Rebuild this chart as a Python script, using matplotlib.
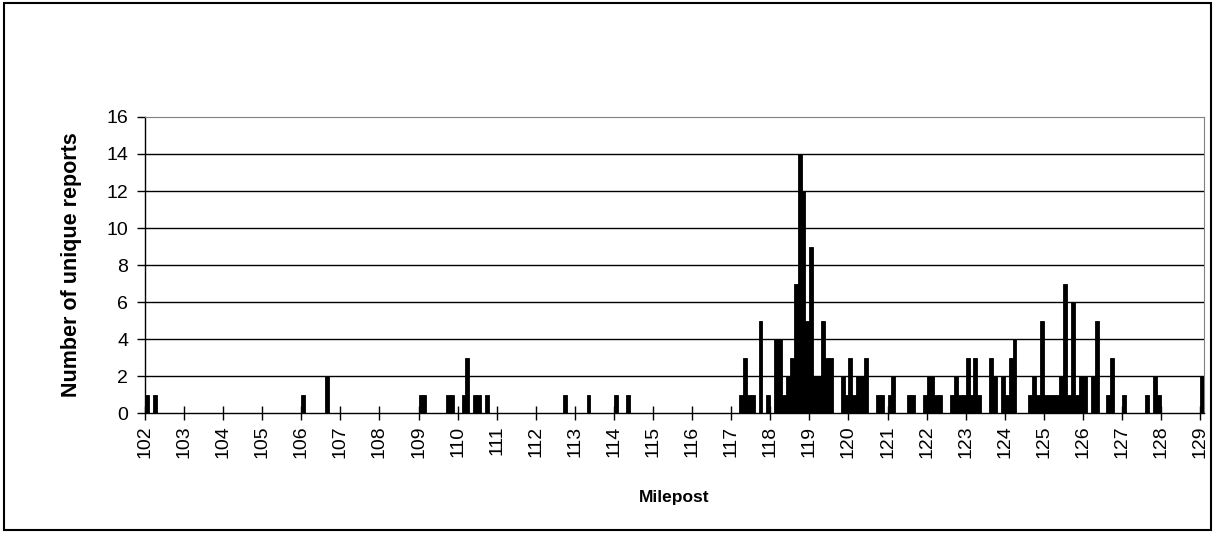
import matplotlib
matplotlib.use("Agg")
import matplotlib.pyplot as plt
from matplotlib.patches import Rectangle

plt.rcParams['font.family'] = ['Liberation Sans', 'DejaVu Sans']

# milepost (start of each 0.1 mile bin) and number of unique reports; empty bins left out
mileposts = [102.0, 102.2, 106.0, 106.6, 109.0, 109.1, 109.7, 109.8, 110.1, 110.2,
             110.4, 110.5, 110.7, 112.7, 113.3, 114.0, 114.3,
             117.2, 117.3, 117.4, 117.5, 117.7, 117.9, 118.1, 118.2, 118.3, 118.4,
             118.5, 118.6, 118.7, 118.8, 118.9, 119.0, 119.1, 119.2, 119.3, 119.4,
             119.5, 119.8, 119.9, 120.0, 120.1, 120.2, 120.3, 120.4, 120.7, 120.8,
             121.0, 121.1, 121.5, 121.6, 121.9, 122.0, 122.1, 122.2, 122.3, 122.6,
             122.7, 122.8, 122.9, 123.0, 123.1, 123.2, 123.3, 123.6, 123.7, 123.9,
             124.0, 124.1, 124.2, 124.6, 124.7, 124.8, 124.9, 125.0, 125.1, 125.2,
             125.3, 125.4, 125.5, 125.6, 125.7, 125.8, 125.9, 126.0, 126.2, 126.3,
             126.6, 126.7, 127.0, 127.6, 127.8, 127.9, 129.0]
reports = [1, 1, 1, 2, 1, 1, 1, 1, 1, 3,
           1, 1, 1, 1, 1, 1, 1,
           1, 3, 1, 1, 5, 1, 4, 4, 1, 2,
           3, 7, 14, 12, 5, 9, 2, 2, 5, 3,
           3, 2, 1, 3, 1, 2, 2, 3, 1, 1,
           1, 2, 1, 1, 1, 2, 2, 1, 1, 1,
           2, 1, 1, 3, 1, 3, 1, 3, 2, 2,
           1, 3, 4, 1, 2, 1, 5, 1, 1, 1,
           1, 2, 7, 1, 6, 1, 2, 2, 2, 5,
           1, 3, 1, 1, 2, 1, 2]

xticks = list(range(102, 130))
yticks = list(range(0, 17, 2))

fig = plt.figure(figsize=(12.15, 5.33), dpi=100)
ax = fig.add_axes([0.1193, 0.2251, 0.8717, 0.5554])

ax.bar(mileposts, reports, width=0.1, align='edge', color='black',
       edgecolor='black', linewidth=0.6, zorder=3)

ax.set_xlim(102.0, 129.1)
ax.set_ylim(0, 16)
ax.set_xticks(xticks)
ax.set_xticklabels([str(t) for t in xticks], rotation=90)
ax.set_yticks(yticks)

for y in yticks[1:-1]:
    ax.axhline(y, color='black', linewidth=1.0, zorder=1)

ax.spines['top'].set_color('#808080')
ax.spines['right'].set_color('#808080')
ax.spines['left'].set_linewidth(1.0)
ax.spines['bottom'].set_linewidth(1.0)
ax.spines['bottom'].set_zorder(4)

ax.tick_params(axis='x', direction='inout', length=10, width=1, labelsize=14, pad=4)
ax.tick_params(axis='y', direction='out', length=6, width=1, labelsize=14, pad=6)

ax.set_xlabel('Milepost', fontsize=12.5, fontweight='bold')
ax.set_ylabel('Number of unique reports', fontsize=15.5, fontweight='bold')
ax.xaxis.set_label_coords(0.5, -0.26)
ax.yaxis.set_label_coords(-0.059, 0.5)

fig.patches.append(Rectangle((0.003, 0.005), 0.994, 0.99, transform=fig.transFigure,
                             fill=False, edgecolor='black', linewidth=1.5))

fig.savefig('out.png', dpi=100)
